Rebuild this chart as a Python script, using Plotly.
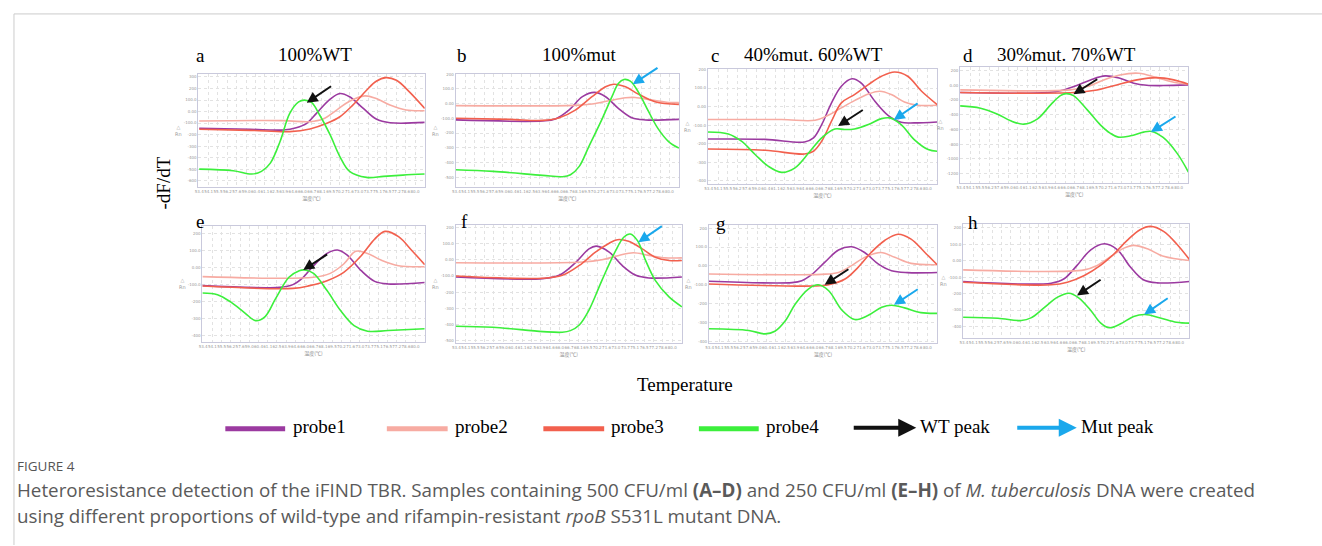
import plotly.graph_objects as go

W, H = 1322, 546

# ---------------- data (temperature, -dF/dT) ----------------
X_TICKTEXT = ["53.4", "54.1", "55.5", "56.2", "57.6", "59.0", "60.4", "61.1", "62.5", "63.9", "64.6", "66.0",
              "66.7", "68.1", "69.5", "70.2", "71.6", "73.0", "73.7", "75.1", "76.5", "77.2", "78.6", "80.0"]

# panel a : 100%WT
A_T1 = [53.1, 59.4, 63.5, 65.1, 66.4, 67.6, 69.3, 70.5, 71.7, 73.4, 75.0, 76.7, 81.0]
A_V1 = [-145, -154, -160, -140, -102, -16, 107, 156, 128, 27, -65, -97, -94]
A_T2 = [53.1, 63.5, 66.8, 68.4, 70.1, 71.7, 73.6, 75.0, 76.7, 78.7, 81.0]
A_V2 = [-82, -79, -88, -65, 13, 90, 136, 113, 56, 13, 7]
A_T3 = [53.1, 59.4, 64.3, 66.8, 68.9, 70.5, 72.1, 73.8, 75.0, 76.2, 77.5, 79.1, 81.0]
A_V3 = [-154, -163, -174, -151, -102, -45, 56, 185, 263, 294, 271, 171, 27]
A_T4 = [53.1, 57.3, 59.6, 60.8, 61.9, 63.1, 64.3, 65.4, 66.1, 67.0, 68.0, 69.3, 70.5, 71.7, 73.8, 75.9, 78.3, 81.0]
A_V4 = [-499, -513, -542, -519, -447, -260, -16, 84, 99, 79, -30, -203, -390, -519, -571, -562, -551, -542]

# panel b : 100%mut
B_T1 = [53.0, 63.9, 65.5, 67.2, 68.9, 70.4, 71.8, 73.4, 75.1, 76.8, 81.0]
B_V1 = [-111, -118, -105, -44, 47, 76, 47, -32, -96, -111, -107]
B_T2 = [53.0, 68.0, 70.1, 72.2, 74.3, 75.5, 77.6, 79.7, 81.0]
B_V2 = [-14, -12, -3, 19, 40, 42, 24, 8, 8]
B_T3 = [53.0, 59.7, 63.9, 66.0, 68.0, 70.1, 71.8, 72.8, 74.3, 75.9, 78.0, 81.0]
B_V3 = [-100, -107, -114, -96, -44, 47, 114, 132, 114, 65, 13, -5]
B_T4 = [53.0, 57.7, 63.9, 66.4, 67.4, 68.5, 69.7, 71.4, 72.6, 73.4, 74.1, 74.9, 75.9, 77.2, 78.4, 79.7, 81.0]
B_V4 = [-450, -461, -488, -497, -484, -427, -292, -100, 47, 137, 164, 153, 80, -55, -172, -258, -303]

# panel c : 40%mut 60%WT
C_T1 = [53.0, 60.0, 64.8, 65.9, 66.9, 68.1, 69.3, 70.6, 71.7, 73.4, 75.0, 76.6, 78.2, 81.0]
C_V1 = [-175, -177, -191, -169, -97, 20, 110, 150, 128, 29, -47, -85, -88, -83]
C_T2 = [53.0, 62.0, 66.1, 67.7, 69.3, 70.9, 72.6, 74.0, 75.4, 77.0, 78.6, 81.0]
C_V2 = [-70, -70, -74, -47, -7, 32, 68, 83, 65, 25, 7, 7]
C_T3 = [53.0, 60.0, 64.8, 65.9, 66.9, 68.1, 69.3, 70.9, 72.6, 74.2, 75.8, 77.4, 79.1, 81.0]
C_V3 = [-229, -236, -256, -241, -187, -79, 20, 65, 119, 164, 187, 164, 83, 11]
C_T4 = [53.0, 55.5, 57.1, 58.8, 60.4, 62.0, 63.6, 65.3, 66.9, 68.5, 69.7, 70.9, 72.6, 74.2, 75.2, 76.6, 78.2, 79.9, 81.0]
C_V4 = [-137, -148, -187, -260, -323, -355, -332, -251, -169, -121, -124, -121, -97, -65, -61, -97, -178, -232, -241]

# panel d : 30%mut 70%WT
D_T1 = [53.0, 63.7, 65.7, 67.3, 69.0, 70.8, 72.6, 74.3, 75.9, 77.9, 81.0]
D_V1 = [-98, -98, -62, -3, 74, 128, 96, 28, 1, -3, 6]
D_T2 = [53.0, 66.5, 68.6, 70.6, 72.6, 74.9, 77.1, 79.2, 81.0]
D_V2 = [-62, -62, -17, 74, 141, 164, 105, 42, 15]
D_T3 = [53.0, 66.9, 69.8, 72.2, 74.7, 77.1, 79.2, 81.0]
D_V3 = [-98, -98, -62, 6, 74, 105, 74, 15]
D_T4 = [53.0, 55.5, 57.6, 59.2, 60.8, 62.5, 64.1, 65.3, 66.0, 66.9, 68.6, 70.2, 71.4, 72.4, 73.9, 75.5, 76.5, 77.9, 79.6, 81.0]
D_V4 = [-279, -310, -391, -482, -527, -455, -265, -139, -112, -139, -333, -536, -649, -703, -685, -635, -626, -708, -920, -1177]

# panel e
E_T1 = [53.0, 62.7, 64.4, 65.7, 67.0, 68.7, 70.0, 71.2, 73.0, 74.7, 76.4, 81.0]
E_V1 = [-108, -118, -102, -59, 9, 81, 101, 73, -20, -83, -98, -90]
E_T2 = [53.0, 67.0, 69.1, 70.8, 72.3, 73.8, 75.5, 77.7, 81.0]
E_V2 = [-55, -59, -36, 19, 93, 81, 42, 9, 3]
E_T3 = [53.0, 64.4, 66.5, 68.7, 70.8, 73.0, 74.7, 76.0, 77.7, 79.4, 81.0]
E_V3 = [-110, -124, -108, -79, -30, 67, 165, 210, 179, 97, 15]
E_T4 = [53.0, 54.9, 56.6, 58.4, 59.7, 60.9, 62.2, 63.9, 65.2, 65.9, 67.0, 68.7, 70.4, 72.1, 73.8, 76.4, 81.0]
E_V4 = [-151, -161, -205, -270, -313, -289, -186, -59, -20, -16, -36, -137, -254, -342, -375, -371, -361]

# panel f
F_T1 = [53.0, 63.8, 65.8, 67.9, 69.5, 70.4, 72.0, 73.6, 75.3, 76.9, 81.0]
F_V1 = [-106, -116, -96, -14, 67, 84, 47, -35, -96, -112, -106]
F_T2 = [53.0, 68.7, 71.1, 73.2, 75.0, 76.9, 78.9, 81.0]
F_V2 = [-18, -14, 0, 27, 43, 27, 12, 12]
F_T3 = [53.0, 63.8, 66.2, 68.3, 70.3, 72.0, 73.0, 74.4, 76.1, 77.7, 79.4, 81.0]
F_V3 = [-100, -114, -96, -35, 47, 102, 124, 114, 67, 16, -4, -4]
F_T4 = [53.0, 57.6, 63.8, 66.2, 67.2, 68.3, 69.5, 71.1, 72.8, 73.8, 74.6, 75.5, 76.5, 77.7, 79.4, 81.0]
F_V4 = [-410, -416, -443, -447, -437, -402, -310, -127, 57, 139, 159, 118, -4, -127, -229, -290]

# panel g
G_T1 = [53.0, 63.2, 64.4, 65.6, 67.2, 68.9, 70.5, 72.1, 73.8, 75.4, 77.4, 81.0]
G_V1 = [-82, -89, -79, -47, 18, 84, 101, 71, 9, -26, -36, -35]
G_T2 = [53.0, 66.8, 68.9, 70.5, 72.1, 74.1, 75.8, 77.8, 81.0]
G_V2 = [-43, -45, -35, 1, 45, 71, 45, 13, 6]
G_T3 = [53.0, 66.0, 67.7, 69.7, 71.3, 72.9, 74.6, 76.2, 77.8, 79.5, 81.0]
G_V3 = [-96, -107, -100, -70, -8, 71, 136, 168, 142, 71, 6]
G_T4 = [53.0, 57.9, 59.9, 61.1, 62.4, 63.6, 65.2, 66.4, 67.7, 69.3, 70.9, 72.5, 74.2, 75.4, 77.0, 79.0, 81.0]
G_V4 = [-334, -343, -361, -347, -290, -202, -123, -100, -132, -234, -285, -264, -220, -209, -223, -248, -252]

# panel h
H_T1 = [53.0, 63.9, 65.5, 67.1, 68.8, 70.5, 72.1, 73.7, 75.3, 77.0, 81.0]
H_V1 = [-127, -137, -110, -29, 66, 103, 66, -39, -116, -135, -127]
H_T2 = [53.0, 68.0, 69.6, 71.2, 72.9, 74.1, 75.8, 77.8, 81.0]
H_V2 = [-56, -56, -29, 22, 76, 93, 72, 26, 1]
H_T3 = [53.0, 63.9, 65.9, 68.0, 70.0, 71.7, 73.3, 74.9, 76.2, 77.8, 79.4, 81.0]
H_V3 = [-131, -147, -131, -90, -29, 42, 123, 188, 208, 178, 103, 7]
H_T4 = [53.0, 57.3, 60.2, 61.4, 63.0, 64.7, 66.1, 67.3, 68.8, 70.0, 71.1, 72.5, 74.1, 75.5, 77.4, 79.4, 81.0]
H_V4 = [-344, -350, -364, -348, -287, -222, -198, -226, -303, -378, -408, -384, -339, -327, -348, -374, -380]

# peak arrows (tail T, tail value, head T, head value)
WT_ARROWS = {"a": (69.6, 228, 66.4, 76), "c": (72.1, -13, 68.9, -105), "d": (70.0, 96, 66.9, -121),
             "e": (68.9, 81, 65.7, -16), "g": (70.3, -13, 67.2, -100), "h": (70.2, -110, 67.1, -212)}
MUT_ARROWS = {"b": (78.5, 250, 75.2, 132), "c": (78.8, 23, 75.7, -72), "d": (79.6, -410, 76.4, -635),
              "f": (78.7, 214, 75.6, 108), "g": (78.8, -119, 75.7, -207), "h": (78.5, -222, 75.4, -327)}

PANEL_TITLES = {"a": "100%WT", "b": "100%mut", "c": "40%mut. 60%WT", "d": "30%mut. 70%WT"}
PROBE_NAMES = ["probe1", "probe2", "probe3", "probe4"]

# ---------------- styles ----------------
COLORS = ["#9b3aa0", "#f7aba2", "#f2604e", "#3cef3c"]
BLACK_ARROW = "#111111"
BLUE_ARROW = "#1aa8ec"
SERIF = "Liberation Serif"

# plot-area boxes in pixels (x0, x1, y0, y1), y ranges and y ticks
BOX = {"a": (195, 422, 72, 186), "b": (453, 677, 72, 186), "c": (706, 936, 67, 183), "d": (959, 1188, 65, 182),
       "e": (199, 422, 225, 342), "f": (453, 680, 224, 343), "g": (707, 936, 224, 343), "h": (962, 1189, 223, 338)}
YRANGE = {"a": (-654, 329), "b": (-567, 204), "c": (-418, 205), "d": (-1326, 254),
          "e": (-439, 243), "f": (-514, 216), "g": (-410, 218), "h": (-471, 224)}
YTICKS = {"a": list(range(300, -601, -100)), "b": list(range(200, -501, -100)), "c": list(range(200, -401, -100)),
          "d": list(range(200, -1201, -200)), "e": list(range(200, -401, -100)), "f": list(range(200, -501, -100)),
          "g": list(range(200, -401, -100)), "h": list(range(200, -401, -100))}

DATA = {
    "a": [(A_T1, A_V1), (A_T2, A_V2), (A_T3, A_V3), (A_T4, A_V4)],
    "b": [(B_T1, B_V1), (B_T2, B_V2), (B_T3, B_V3), (B_T4, B_V4)],
    "c": [(C_T1, C_V1), (C_T2, C_V2), (C_T3, C_V3), (C_T4, C_V4)],
    "d": [(D_T1, D_V1), (D_T2, D_V2), (D_T3, D_V3), (D_T4, D_V4)],
    "e": [(E_T1, E_V1), (E_T2, E_V2), (E_T3, E_V3), (E_T4, E_V4)],
    "f": [(F_T1, F_V1), (F_T2, F_V2), (F_T3, F_V3), (F_T4, F_V4)],
    "g": [(G_T1, G_V1), (G_T2, G_V2), (G_T3, G_V3), (G_T4, G_V4)],
    "h": [(H_T1, H_V1), (H_T2, H_V2), (H_T3, H_V3), (H_T4, H_V4)],
}


def fmt(v):
    if v == 0:
        return "0.00"
    if abs(v) == 100:
        return f"{v:.1f}"
    return str(v)


def px(x):
    return x / W


def py(y):
    return 1 - y / H


def label(text, x, y, size, color="black", family=SERIF, xanchor="center", angle=0):
    return dict(text=text, xref="paper", yref="paper", x=px(x), y=py(y), xanchor=xanchor, yanchor="middle",
                showarrow=False, textangle=angle, font=dict(size=size, color=color, family=family))


fig = go.Figure()
layout = {}
annotations = []
shapes = []
tickvals_x = [53.1 + i * (26.7 / 23) for i in range(len(X_TICKTEXT))]

for i, key in enumerate("abcdefgh"):
    n = i + 1
    xa = "xaxis" if n == 1 else f"xaxis{n}"
    ya = "yaxis" if n == 1 else f"yaxis{n}"
    xr = "x" if n == 1 else f"x{n}"
    yr = "y" if n == 1 else f"y{n}"
    x0, x1, y0, y1 = BOX[key]
    layout[xa] = dict(domain=[px(x0), px(x1)], anchor=yr, range=[53.0, 81.0],
                      tickvals=tickvals_x, ticktext=X_TICKTEXT, tickangle=0,
                      tickfont=dict(size=4, color="#999999", family="DejaVu Sans"),
                      showgrid=True, gridcolor="#e2e2e2", griddash="dot", gridwidth=1,
                      zeroline=False, showline=True, linecolor="#c9c9dc", mirror=True, ticks="",
                      title=dict(text="温度(℃)", font=dict(size=5, color="#888888",
                                                        family="Noto Sans CJK SC"), standoff=2))
    yt = YTICKS[key]
    layout[ya] = dict(domain=[py(y1), py(y0)], anchor=xr, range=list(YRANGE[key]),
                      tickvals=yt, ticktext=[fmt(v) for v in yt],
                      tickfont=dict(size=4, color="#999999", family="DejaVu Sans"),
                      showgrid=True, gridcolor="#e2e2e2", griddash="dot", gridwidth=1,
                      zeroline=False, showline=True, linecolor="#c9c9dc", mirror=True, ticks="")
    for j, (t, v) in enumerate(DATA[key]):
        fig.add_trace(go.Scatter(x=t, y=v, mode="lines", line=dict(color=COLORS[j], width=1.6, shape="spline",
                                                                   smoothing=1.0),
                                 name=PROBE_NAMES[j], showlegend=False, xaxis=xr, yaxis=yr, hoverinfo="skip"))
    # delta Rn axis label
    annotations.append(label("△<br>Rn", x0 - 20, (y0 + y1) / 2, 5, color="#999999", family="DejaVu Sans"))
    for arrows, col in ((WT_ARROWS, BLACK_ARROW), (MUT_ARROWS, BLUE_ARROW)):
        if key in arrows:
            tt, tv, ht, hv = arrows[key]
            annotations.append(dict(x=ht, y=hv, ax=tt, ay=tv, xref=xr, yref=yr, axref=xr, ayref=yr,
                                    text="", showarrow=True, arrowhead=2, arrowsize=1.1, arrowwidth=2,
                                    arrowcolor=col))

# panel letters and titles
LETTER_POS = {"a": (197, 54), "b": (459, 54), "c": (713, 54), "d": (967, 54),
              "e": (197, 221), "f": (462, 221), "g": (719, 223), "h": (972, 222)}
TITLE_POS = {"a": 312, "b": 577, "c": 812, "d": 1066}
for key, (lx, ly) in LETTER_POS.items():
    annotations.append(label(key, lx, ly, 19))
for key, tx in TITLE_POS.items():
    annotations.append(label(PANEL_TITLES[key], tx, 53, 19))

# big axis labels
annotations.append(label("-dF/dT", 160, 182, 19, angle=-90))
annotations.append(label("Temperature", 683, 385, 19))

# legend
LEG_Y = 429
LEG_LINES = [(222, 282), (384, 445), (541, 602), (697, 757)]
LEG_TEXT_X = [288, 450, 607, 762]
for j, ((lx0, lx1), tx) in enumerate(zip(LEG_LINES, LEG_TEXT_X)):
    shapes.append(dict(type="line", xref="paper", yref="paper", x0=px(lx0), x1=px(lx1), y0=py(LEG_Y), y1=py(LEG_Y),
                       line=dict(color=COLORS[j], width=5)))
    annotations.append(label(PROBE_NAMES[j], tx, LEG_Y - 2, 19, xanchor="left"))
for (hx, tx0, text, col) in [(915, 851, "WT peak", BLACK_ARROW), (1076, 1015, "Mut peak", BLUE_ARROW)]:
    annotations.append(dict(x=px(hx), y=py(LEG_Y - 1), xref="paper", yref="paper", ax=tx0 - hx, ay=0,
                            text="", showarrow=True, arrowhead=2, arrowsize=0.9, arrowwidth=4, arrowcolor=col))
    annotations.append(label(text, hx + 2, LEG_Y - 2, 19, xanchor="left"))

# caption
annotations.append(label("FIGURE 4", 11, 467, 13.5, color="#555555", family="Open Sans", xanchor="left"))
annotations.append(label("Heteroresistance detection of the iFIND TBR. Samples containing 500 CFU/ml <b>(A–D)</b> "
                         "and 250 CFU/ml <b>(E–H)</b> of <i>M. tuberculosis</i> DNA were created",
                         11, 491, 18.8, color="#5a5a5a", family="Open Sans", xanchor="left"))
annotations.append(label("using different proportions of wild-type and rifampin-resistant <i>rpoB</i> S531L mutant DNA.",
                         11, 517, 18.8, color="#5a5a5a", family="Open Sans", xanchor="left"))

# page frame
shapes.append(dict(type="line", xref="paper", yref="paper", x0=px(10), x1=1, y0=py(12), y1=py(12),
                   line=dict(color="#cccccc", width=1)))
shapes.append(dict(type="line", xref="paper", yref="paper", x0=px(10), x1=px(10), y0=py(12), y1=0,
                   line=dict(color="#cccccc", width=1)))

fig.update_layout(width=W, height=H, margin=dict(l=0, r=0, t=0, b=0), paper_bgcolor="white",
                  plot_bgcolor="white", showlegend=False, annotations=annotations, shapes=shapes, **layout)

fig.write_html("out.html", config={"displayModeBar": False},
               post_script="document.body.style.margin='0px';document.body.style.overflow='hidden';")
